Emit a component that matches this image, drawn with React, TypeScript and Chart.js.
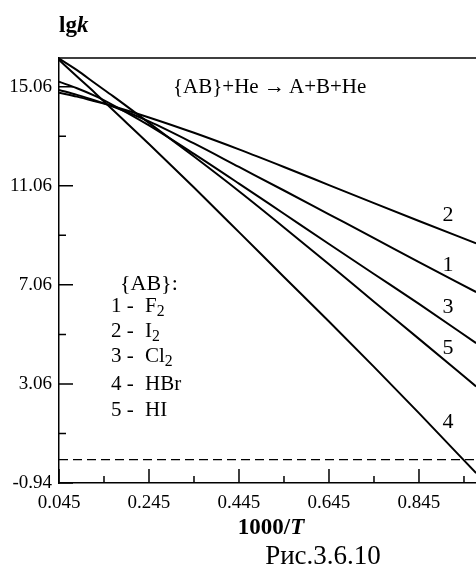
import React, { useEffect, useRef } from "react";
import { Chart, registerables } from "chart.js";

Chart.register(...registerables);

// 1000/T values at which the curves are sampled
const X_VALUES = [0.045, 0.085, 0.125, 0.165, 0.245, 0.345, 0.445, 0.545, 0.645, 0.745, 0.845, 0.972];
// lg k for each {AB}
const LGK_1_F2 = [14.93, 14.73, 14.51, 14.26, 13.66, 12.77, 11.82, 10.87, 9.91, 8.95, 7.98, 6.77];
const LGK_2_I2 = [14.82, 14.66, 14.47, 14.27, 13.82, 13.2, 12.53, 11.82, 11.09, 10.36, 9.64, 8.74];
const LGK_3_CL2 = [15.26, 15.0, 14.69, 14.32, 13.5, 12.35, 11.15, 9.93, 8.71, 7.5, 6.29, 4.71];
const LGK_4_HBR = [16.14, 15.47, 14.81, 14.12, 12.75, 10.99, 9.19, 7.38, 5.58, 3.75, 1.88, -0.54];
const LGK_5_HI = [16.2, 15.73, 15.2, 14.68, 13.6, 12.24, 10.84, 9.38, 7.89, 6.38, 4.88, 2.96];
const ZERO_LINE_X = [0.045, 0.972];
const ZERO_LINE_Y = [0, 0];

const X_MIN = 0.045;
const X_MAX = 0.9717;
const Y_MIN = -0.94;
const Y_MAX = 16.22;

const X_TICKS = [0.045, 0.245, 0.445, 0.645, 0.845];
const X_TICK_LABELS = ["0.045", "0.245", "0.445", "0.645", "0.845"];
const X_MINOR = [0.145, 0.345, 0.545, 0.745, 0.945];
const Y_TICKS = [-0.94, 3.06, 7.06, 11.06, 15.06];
const Y_TICK_LABELS = ["-0.94", "3.06", "7.06", "11.06", "15.06"];
const Y_MINOR = [1.06, 5.06, 9.06, 13.06];

const SERIF = "'Liberation Serif', 'Times New Roman', serif";

const pts = (xs: number[], ys: number[]) => xs.map((x, i) => ({ x, y: ys[i] }));

const framePlugin = {
  id: "frameTicks",
  afterDraw(chart: any) {
    const { ctx, chartArea: a, scales } = chart;
    const x = scales.x;
    const y = scales.y;
    ctx.save();
    ctx.strokeStyle = "#000";
    ctx.lineWidth = 1.5;
    ctx.beginPath();
    ctx.moveTo(a.left, a.top);
    ctx.lineTo(a.right, a.top);
    X_TICKS.forEach((v) => {
      const p = x.getPixelForValue(v);
      ctx.moveTo(p, a.bottom);
      ctx.lineTo(p, a.bottom - 14);
    });
    X_MINOR.forEach((v) => {
      const p = x.getPixelForValue(v);
      ctx.moveTo(p, a.bottom);
      ctx.lineTo(p, a.bottom - 7);
    });
    Y_TICKS.forEach((v) => {
      const p = y.getPixelForValue(v);
      ctx.moveTo(a.left, p);
      ctx.lineTo(a.left + 14, p);
    });
    Y_MINOR.forEach((v) => {
      const p = y.getPixelForValue(v);
      ctx.moveTo(a.left, p);
      ctx.lineTo(a.left + 7, p);
    });
    ctx.stroke();
    ctx.restore();
  },
};

function Txt(props: { x: number; y: number; size: number; center?: boolean; bold?: boolean; children: any }) {
  const { x, y, size, center, bold, children } = props;
  return (
    <div
      style={{
        position: "absolute",
        left: x,
        top: y,
        fontSize: size,
        lineHeight: `${size}px`,
        fontFamily: SERIF,
        fontWeight: bold ? "bold" : "normal",
        color: "#000",
        whiteSpace: "nowrap",
        transform: `translate(${center ? "-50%" : "0"}, -50%)`,
      }}
    >
      {children}
    </div>
  );
}

const Sub = ({ children }: { children: any }) => (
  <span style={{ fontSize: "0.75em", verticalAlign: "-0.3em" }}>{children}</span>
);

function LegendRow({ y, num, children }: { y: number; num: string; children: any }) {
  return (
    <Txt x={111} y={y} size={21}>
      <span style={{ display: "inline-block", width: 34 }}>{num} -</span>
      {children}
    </Txt>
  );
}

export default function App() {
  const ref = useRef<HTMLCanvasElement | null>(null);

  useEffect(() => {
    if (!ref.current) return;
    const line = (data: number[]) => ({
      data: pts(X_VALUES, data),
      borderColor: "#000",
      borderWidth: 2,
      pointRadius: 0,
      fill: false,
      cubicInterpolationMode: "monotone" as const,
    });
    const chart = new Chart(ref.current, {
      type: "line",
      data: {
        datasets: [
          line(LGK_1_F2),
          line(LGK_2_I2),
          line(LGK_3_CL2),
          line(LGK_4_HBR),
          line(LGK_5_HI),
          {
            data: pts(ZERO_LINE_X, ZERO_LINE_Y),
            borderColor: "#000",
            borderWidth: 1.2,
            borderDash: [9, 5],
            pointRadius: 0,
            fill: false,
          },
        ],
      },
      options: {
        animation: false,
        responsive: false,
        maintainAspectRatio: false,
        events: [],
        layout: { padding: { top: 58, right: 0, left: 0, bottom: 0 } },
        plugins: { legend: { display: false }, tooltip: { enabled: false }, title: { display: false } },
        scales: {
          x: {
            type: "linear",
            position: "bottom",
            min: X_MIN,
            max: X_MAX,
            grid: { display: false, drawTicks: false },
            border: { display: true, color: "#000", width: 1.5 },
            afterFit: (s: any) => {
              s.height = 85;
            },
            afterBuildTicks: (s: any) => {
              s.ticks = X_TICKS.map((v) => ({ value: v }));
            },
            ticks: {
              autoSkip: false,
              maxRotation: 0,
              padding: 9,
              color: "#000",
              font: { family: SERIF, size: 19 },
              callback: (_v: any, i: number) => X_TICK_LABELS[i],
            },
          },
          y: {
            type: "linear",
            min: Y_MIN,
            max: Y_MAX,
            grid: { display: false, drawTicks: false },
            border: { display: true, color: "#000", width: 1.5 },
            afterFit: (s: any) => {
              s.width = 59;
            },
            afterBuildTicks: (s: any) => {
              s.ticks = Y_TICKS.map((v) => ({ value: v }));
            },
            ticks: {
              autoSkip: false,
              padding: 7,
              color: "#000",
              font: { family: SERIF, size: 19 },
              callback: (_v: any, i: number) => Y_TICK_LABELS[i],
            },
          },
        },
      },
      plugins: [framePlugin],
    });
    return () => chart.destroy();
  }, []);

  return (
    <div style={{ position: "absolute", left: 0, top: 0, width: 476, height: 568, overflow: "hidden", background: "#fff" }}>
      <canvas ref={ref} width={476} height={568} style={{ position: "absolute", left: 0, top: 0, width: 476, height: 568 }} />
      <Txt x={59} y={24} size={23} bold>
        lg<i>k</i>
      </Txt>
      <Txt x={173} y={86} size={21}>
        {"{AB}+He \u2192 A+B+He"}
      </Txt>
      <Txt x={120} y={283} size={22}>
        {"{AB}:"}
      </Txt>
      <LegendRow y={308} num="1">
        F<Sub>2</Sub>
      </LegendRow>
      <LegendRow y={333} num="2">
        I<Sub>2</Sub>
      </LegendRow>
      <LegendRow y={358} num="3">
        Cl<Sub>2</Sub>
      </LegendRow>
      <LegendRow y={383} num="4">
        HBr
      </LegendRow>
      <LegendRow y={409} num="5">
        HI
      </LegendRow>
      <Txt x={448} y={214} size={22} center>2</Txt>
      <Txt x={448} y={264} size={22} center>1</Txt>
      <Txt x={448} y={306} size={22} center>3</Txt>
      <Txt x={448} y={347} size={22} center>5</Txt>
      <Txt x={448} y={421} size={22} center>4</Txt>
      <Txt x={271} y={526} size={23} center bold>
        1000/<i>T</i>
      </Txt>
      <Txt x={323} y={555} size={27} center>
        Рис.3.6.10
      </Txt>
    </div>
  );
}
